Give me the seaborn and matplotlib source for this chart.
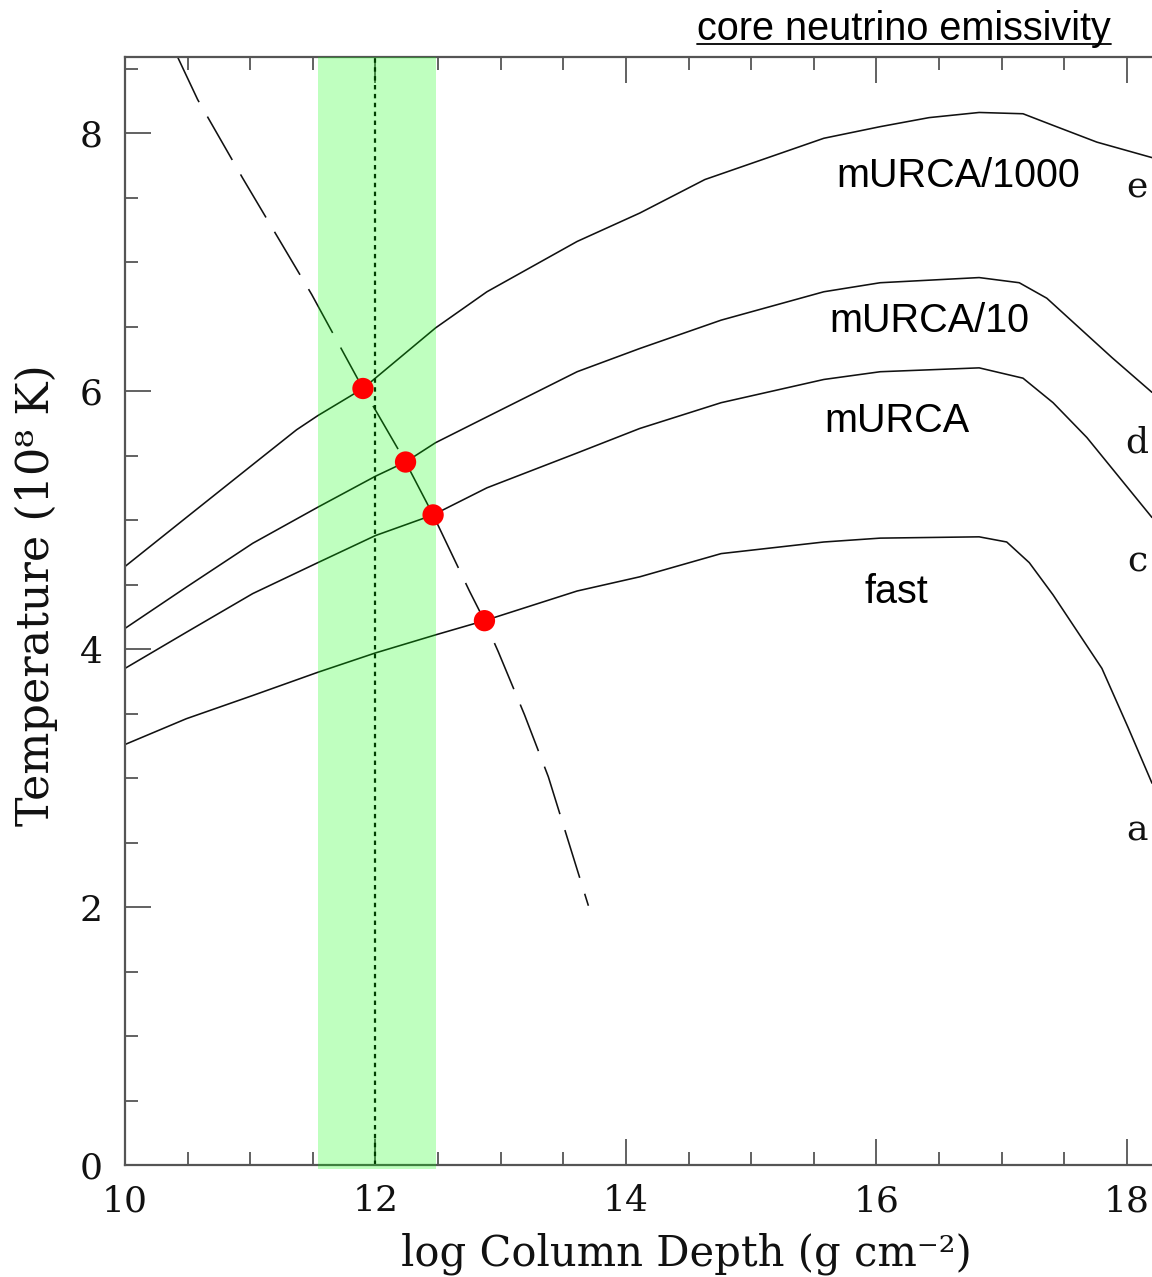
import matplotlib
matplotlib.use("Agg")
import matplotlib.pyplot as plt
import seaborn as sns
import pandas as pd
from matplotlib.ticker import MultipleLocator
from matplotlib.lines import Line2D

# ---- curves: temperature (1e8 K) vs log column depth (g cm^-2) ----
fast_x = [10.0, 10.49, 11.02, 11.54, 12.0, 12.48, 12.87, 13.61, 14.11, 14.76, 15.58,
          16.03, 16.82, 17.04, 17.22, 17.41, 17.80, 18.01, 18.2]
fast_y = [3.26, 3.46, 3.64, 3.82, 3.97, 4.11, 4.22, 4.45, 4.56, 4.74, 4.83,
          4.86, 4.87, 4.83, 4.67, 4.42, 3.85, 3.39, 2.96]

murca_x = [10.0, 10.49, 11.02, 11.54, 12.0, 12.46, 12.89, 13.61, 14.11, 14.76, 15.58,
           16.03, 16.82, 17.17, 17.41, 17.68, 17.94, 18.2]
murca_y = [3.85, 4.13, 4.43, 4.67, 4.88, 5.04, 5.25, 5.52, 5.71, 5.91, 6.09,
           6.15, 6.18, 6.10, 5.91, 5.64, 5.33, 5.02]

murca10_x = [10.0, 10.49, 11.02, 11.54, 12.0, 12.24, 12.48, 12.89, 13.61, 14.11, 14.76,
             15.58, 16.03, 16.82, 17.14, 17.36, 17.62, 17.88, 18.2]
murca10_y = [4.16, 4.48, 4.82, 5.10, 5.34, 5.45, 5.60, 5.80, 6.15, 6.33, 6.55,
             6.77, 6.84, 6.88, 6.84, 6.72, 6.49, 6.26, 5.99]

murca1000_x = [10.0, 10.49, 11.02, 11.37, 11.54, 11.90, 12.48, 12.89, 13.61, 14.11, 14.63,
               15.58, 16.03, 16.42, 16.82, 17.17, 17.41, 17.76, 18.2]
murca1000_y = [4.64, 5.02, 5.43, 5.70, 5.81, 6.02, 6.49, 6.77, 7.16, 7.38, 7.64,
               7.96, 8.05, 8.12, 8.16, 8.15, 8.06, 7.93, 7.81]

# dashed curve crossing the four models
cross_x = [10.42, 10.58, 10.94, 11.49, 11.90, 12.24, 12.46, 12.75, 12.87, 12.98, 13.19, 13.38, 13.70]
cross_y = [8.59, 8.26, 7.65, 6.75, 6.02, 5.45, 5.04, 4.45, 4.22, 3.98, 3.49, 3.01, 2.01]

# intersection points
dot_x = [11.90, 12.24, 12.46, 12.87]
dot_y = [6.02, 5.45, 5.04, 4.22]

# shaded depth range and reference depth
band_lo, band_hi = 11.54, 12.48
ref_depth = 12.0

curve_names = ["fast", "mURCA", "mURCA/10", "mURCA/1000"]
curve_label_x = [16.16, 16.16, 16.42, 16.65]
curve_label_y = [4.44, 5.77, 6.54, 7.67]
end_letters = ["a", "c", "d", "e"]
end_letter_y = [2.59, 4.68, 5.60, 7.58]
end_letter_x = 18.08

x_ticks = [10, 12, 14, 16, 18]
y_ticks = [0, 2, 4, 6, 8]

sns.set_theme(style="ticks")
plt.rcParams["lines.scale_dashes"] = False
serif = ["DejaVu Serif"]
sans = ["Liberation Sans", "DejaVu Sans"]

fig = plt.figure(figsize=(11.52, 12.77), dpi=100)
ax = fig.add_axes([125 / 1152, 112 / 1277, 1 - 125 / 1152, 1108 / 1277])

curves = [(fast_x, fast_y), (murca_x, murca_y), (murca10_x, murca10_y), (murca1000_x, murca1000_y)]
for (cx, cy) in curves:
    sns.lineplot(x=cx, y=cy, ax=ax, color="#111111", lw=1.15, sort=False,
                 estimator=None, zorder=2)

sns.lineplot(x=cross_x, y=cross_y, ax=ax, color="#111111", lw=1.15, sort=False,
             estimator=None, linestyle=(0, (36, 12)), zorder=2)

ax.axvline(ref_depth, color="#000000", lw=1.6, linestyle=(0, (3.2, 3.2)), zorder=2)

ax.axvspan(band_lo, band_hi, ymin=-4 / 1108, ymax=1.0, color="#00ff00", alpha=0.25,
           lw=0, zorder=3, clip_on=False)

sns.scatterplot(x=dot_x, y=dot_y, ax=ax, color="#ff0000", s=235, edgecolor="none",
                zorder=5, clip_on=False)

for name, lx, ly in zip(curve_names, curve_label_x, curve_label_y):
    ax.text(lx, ly, name, ha="center", va="center", fontsize=28.5, family=sans, color="black")

for letter, ly in zip(end_letters, end_letter_y):
    ax.text(end_letter_x, ly, letter, ha="center", va="center", fontsize=26,
            family=serif, color="#111111", clip_on=False)

ax.set_xlim(10, 18.2)
ax.set_ylim(0, 8.59)
ax.set_xticks(x_ticks)
ax.set_yticks(y_ticks)
ax.set_xticklabels([str(t) for t in x_ticks])
ax.set_yticklabels([str(t) for t in y_ticks])
ax.xaxis.set_minor_locator(MultipleLocator(0.5))
ax.yaxis.set_minor_locator(MultipleLocator(0.5))

spine_col = "#555555"
for side in ["left", "bottom", "top"]:
    ax.spines[side].set_color(spine_col)
    ax.spines[side].set_linewidth(1.6)
ax.spines["right"].set_visible(False)

ax.tick_params(which="major", direction="in", length=19, width=1.3, color=spine_col,
               top=True, right=False, labelsize=26, pad=14)
ax.tick_params(which="minor", direction="in", length=9.5, width=1.3, color=spine_col,
               top=True, right=False)
ax.tick_params(axis="y", which="major", pad=16)
for lab in ax.get_xticklabels() + ax.get_yticklabels():
    lab.set_family(serif)
    lab.set_color("#111111")

ax.set_xlabel("log Column Depth (g cm⁻²)", fontsize=30, family=serif, color="#111111")
ax.set_ylabel("Temperature (10⁸ K)", fontsize=32, family=serif, color="#111111")
ax.xaxis.label.set_va("center")
ax.yaxis.label.set_va("center")
ax.xaxis.set_label_coords(0.547, -0.080)
ax.yaxis.set_label_coords(-0.0867, 0.514)

ax.set_facecolor("white")
fig.patch.set_facecolor("white")

# underlined heading
title = fig.text(1111 / 1152, (1277 - 40) / 1277, "core neutrino emissivity",
                 ha="right", va="baseline", fontsize=28.5, family=sans, color="black")
fig.canvas.draw()
bb = title.get_window_extent(fig.canvas.get_renderer())
W, H = fig.bbox.width, fig.bbox.height
uy = (1277 - 44) / 1277
fig.add_artist(Line2D([bb.x0 / W, bb.x1 / W], [uy, uy], transform=fig.transFigure,
                      color="black", lw=1.3))

fig.savefig("out.png", dpi=100, facecolor="white")
